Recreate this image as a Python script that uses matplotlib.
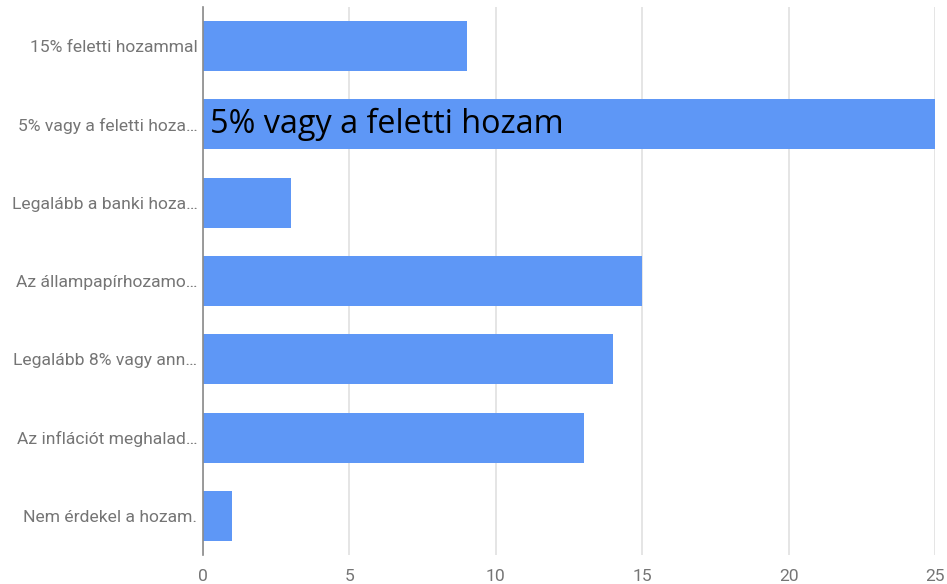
import matplotlib
matplotlib.use("Agg")
import matplotlib.pyplot as plt

categories = [
    "15% feletti hozammal",
    "5% vagy a feletti hoza\u2026",
    "Legal\u00e1bb a banki hoza\u2026",
    "Az \u00e1llampap\u00edrhozamo\u2026",
    "Legal\u00e1bb 8% vagy ann\u2026",
    "Az infl\u00e1ci\u00f3t meghalad\u2026",
    "Nem \u00e9rdekel a hozam.",
]
values = [9, 25, 3, 15, 14, 13, 1]
xticks = [0, 5, 10, 15, 20, 25]
annotation = "5% vagy a feletti hozam"

W, H = 947, 584
fig = plt.figure(figsize=(W / 100, H / 100), dpi=100)
ax = fig.add_axes([203 / W, (H - 555) / H, (935 - 203) / W, (555 - 7) / H])

ypos = list(range(len(categories)))
ax.barh(ypos, values, height=0.64, color="#5e97f6", zorder=3)
ax.set_ylim(len(categories) - 0.5, -0.5)
ax.set_xlim(0, 25)

ax.set_xticks(xticks)
ax.set_xticklabels([str(t) for t in xticks])
ax.set_yticks(ypos)
ax.set_yticklabels(categories)
for lbl in ax.get_yticklabels() + ax.get_xticklabels():
    lbl.set_fontfamily("Roboto")
    lbl.set_color("#757575")
    lbl.set_fontsize(12.6)
ax.tick_params(axis="both", length=0)
ax.tick_params(axis="y", pad=4)
ax.tick_params(axis="x", pad=10)

for s in ["top", "right", "bottom"]:
    ax.spines[s].set_visible(False)
ax.spines["left"].set_color("#8a8a8a")
ax.spines["left"].set_linewidth(1.2)
ax.spines["left"].set_zorder(4)

ax.grid(axis="x", color="#e0e0e0", linewidth=1.2, zorder=0)
ax.grid(axis="y", visible=False)

ax.text(0.25, 1, annotation, fontsize=23.3, family="Open Sans", color="black",
        va="center", ha="left", zorder=5)

fig.savefig("out.png", dpi=100)
